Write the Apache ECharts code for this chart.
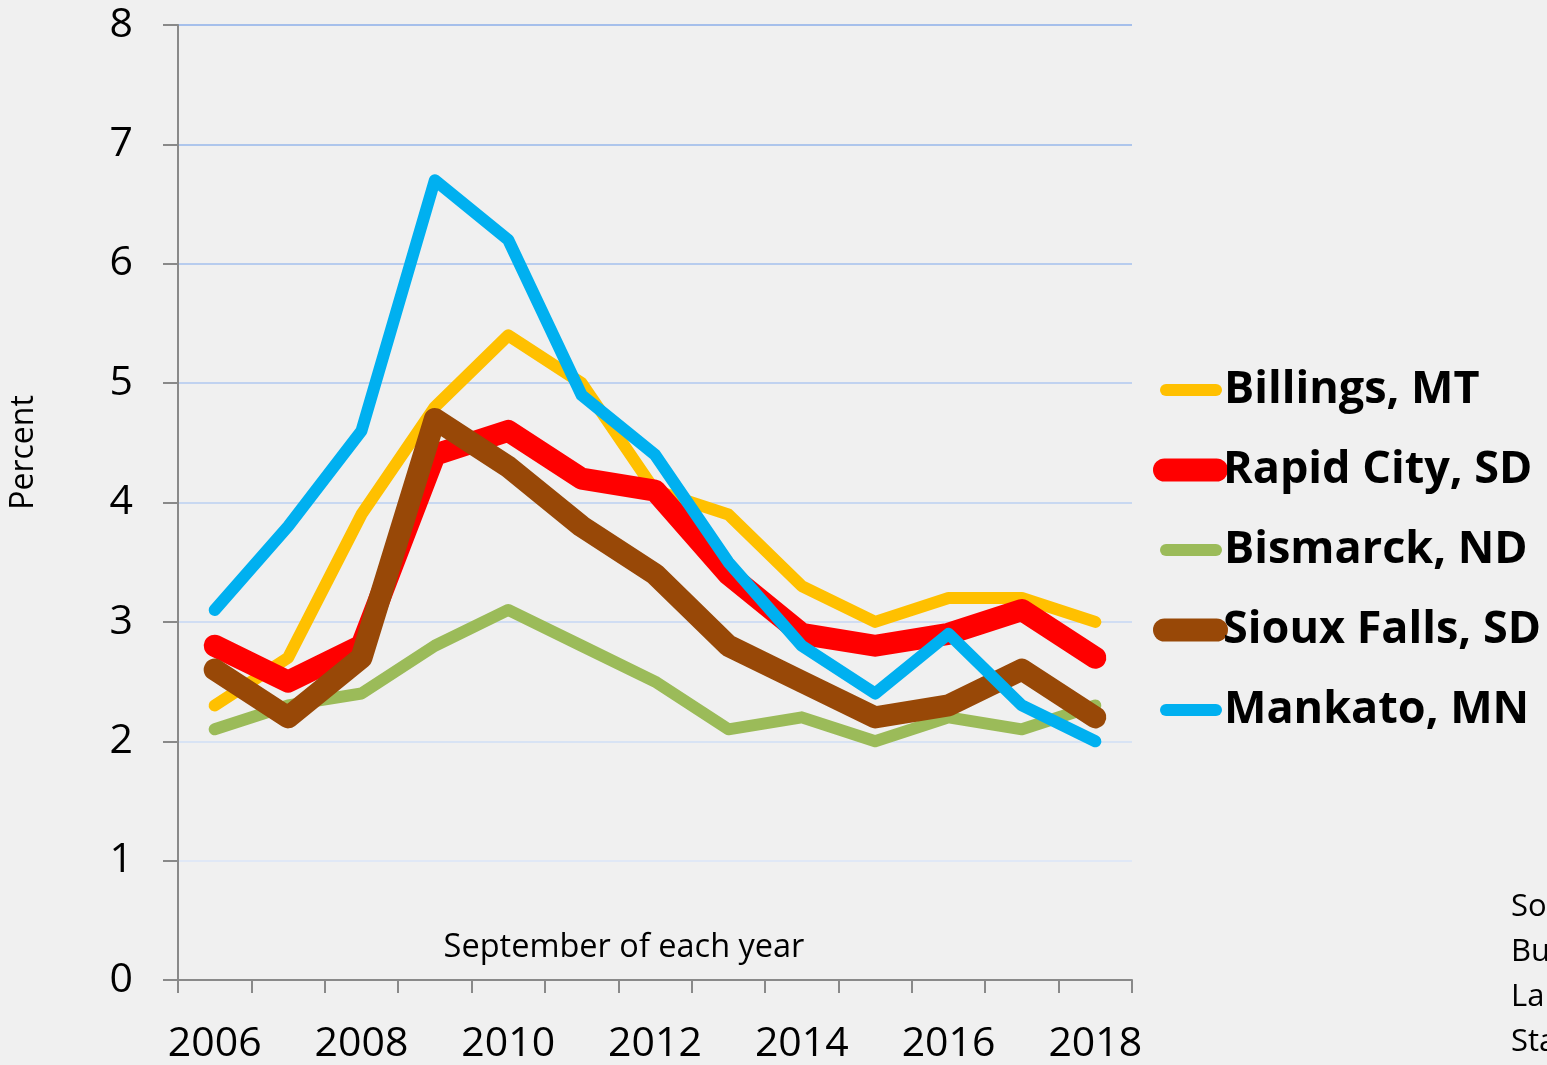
<!DOCTYPE html>
<html>
<head>
<meta charset="utf-8">
<script src="https://cdn.jsdelivr.net/npm/echarts@6/dist/echarts.min.js"></script>
<style>
html,body{margin:0;padding:0;background:#f0f0f0;}
#chart{width:1547px;height:1065px;}
</style>
</head>
<body>
<div id="chart"></div>
<script>
const years = ['2006','2007','2008','2009','2010','2011','2012','2013','2014','2015','2016','2017','2018'];
const yTicks = [0,1,2,3,4,5,6,7,8];
const billings   = [2.3, 2.7, 3.9, 4.8, 5.4, 5.0, 4.1, 3.9, 3.3, 3.0, 3.2, 3.2, 3.0];
const rapidCity  = [2.8, 2.5, 2.8, 4.4, 4.6, 4.2, 4.1, 3.4, 2.9, 2.8, 2.9, 3.1, 2.7];
const bismarck   = [2.1, 2.3, 2.4, 2.8, 3.1, 2.8, 2.5, 2.1, 2.2, 2.0, 2.2, 2.1, 2.3];
const siouxFalls = [2.6, 2.2, 2.7, 4.7, 4.3, 3.8, 3.4, 2.8, 2.5, 2.2, 2.3, 2.6, 2.2];
const mankato    = [3.1, 3.8, 4.6, 6.7, 6.2, 4.9, 4.4, 3.5, 2.8, 2.4, 2.9, 2.3, 2.0];
const seriesNames = ['Billings, MT','Rapid City, SD','Bismarck, ND','Sioux Falls, SD','Mankato, MN'];
const seriesData = [billings, rapidCity, bismarck, siouxFalls, mankato];
const colors = ['#ffc000','#ff0000','#9bbb59','#984807','#00b0f0'];
const widths = [12, 22, 12, 22, 12];
const gridColors = ['#e4ebf7','#e0e8f6','#d8e3f4','#d0ddf3','#c8d8f1','#c0d2f0','#b7ccee','#aec6ec','#a5bfeb'];

const FONT = '"Open Sans", "Noto Sans", sans-serif';
const chart = echarts.init(document.getElementById('chart'));

const thinPath = 'path://M6,0 H56 A6,6 0 0 1 56,12 H6 A6,6 0 0 1 6,0 Z';
const thickPath = 'path://M11.5,0 H63.5 A11.5,11.5 0 0 1 63.5,23 H11.5 A11.5,11.5 0 0 1 11.5,0 Z';
const legendCenters = [387, 467, 547, 627, 707];

const legends = seriesNames.map((n, i) => {
  const thick = widths[i] > 15;
  return {
    data: [n],
    orient: 'vertical',
    padding: 0,
    left: thick ? 1153 : 1160,
    top: legendCenters[i] - 25,
    icon: thick ? thickPath : thinPath,
    itemWidth: thick ? 75 : 62,
    itemHeight: thick ? 23 : 12,
    itemStyle: {borderWidth: 0},
    selectedMode: false,
    textStyle: {
      fontFamily: FONT, fontSize: 45, fontWeight: 'bold', color: '#000',
      lineHeight: 56, padding: [0, 0, 0, thick ? -10 : -3]
    }
  };
});

chart.setOption({
  backgroundColor: '#f0f0f0',
  animation: false,
  grid: {left: 178, right: 415, top: 25, bottom: 80, containLabel: false},
  legend: legends,
  xAxis: {
    type: 'category',
    data: years,
    boundaryGap: true,
    name: 'September of each year',
    nameLocation: 'middle',
    nameGap: -49,
    nameTextStyle: {fontFamily: FONT, fontSize: 32.5, color: '#000', padding: [0, 62, 0, 0]},
    axisLine: {lineStyle: {color: '#898989', width: 2}},
    axisTick: {show: true, interval: 0, length: 13, lineStyle: {color: '#898989', width: 2}},
    axisLabel: {interval: 1, margin: 44, fontFamily: FONT, fontSize: 41, color: '#000'},
    splitLine: {show: false}
  },
  yAxis: {
    type: 'value',
    min: 0, max: 8, interval: 1,
    name: 'Percent',
    nameLocation: 'middle',
    nameRotate: 90,
    nameGap: 138,
    nameTextStyle: {fontFamily: FONT, fontSize: 32, color: '#000', padding: [0, 0, 0, 100]},
    axisLine: {show: true, lineStyle: {color: '#898989', width: 2}},
    axisTick: {show: true, length: 15, lineStyle: {color: '#898989', width: 2}},
    axisLabel: {margin: 45, fontFamily: FONT, fontSize: 41, color: '#000',
      formatter: v => yTicks.includes(v) ? String(v) : ''},
    splitLine: {show: true, lineStyle: {color: gridColors, width: 2}}
  },
  series: seriesNames.map((n, i) => ({
    name: n,
    type: 'line',
    data: seriesData[i],
    symbol: 'none',
    color: colors[i],
    lineStyle: {color: colors[i], width: widths[i], cap: 'round', join: 'round'},
    itemStyle: {color: colors[i]}
  })),
  graphic: [{
    type: 'text',
    left: 1511,
    top: 885,
    style: {
      text: 'Source:\nBureau of\nLabor\nStatistics',
      fontFamily: FONT, fontSize: 31, lineHeight: 45, fill: '#000'
    }
  }]
});
</script>
</body>
</html>
